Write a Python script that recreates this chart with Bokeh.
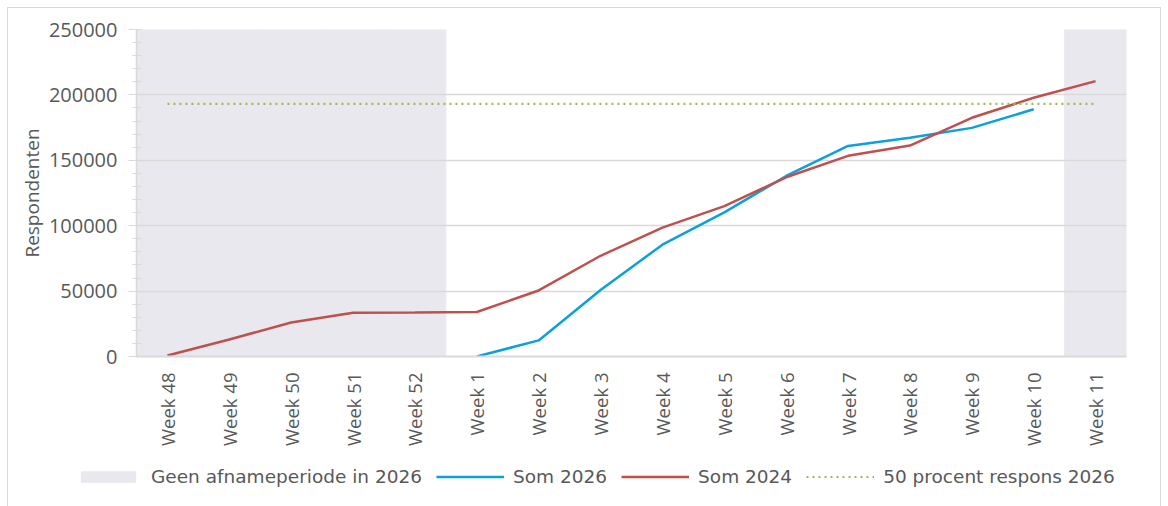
import math
from bokeh.plotting import figure
from bokeh.layouts import column
from bokeh.models import FactorRange, Range1d, FixedTicker, Legend, LegendItem
from bokeh.embed import file_html
from bokeh.resources import INLINE

# ---- data ----
weeks = ["Week 48", "Week 49", "Week 50", "Week 51", "Week 52",
         "Week 1", "Week 2", "Week 3", "Week 4", "Week 5", "Week 6",
         "Week 7", "Week 8", "Week 9", "Week 10", "Week 11"]
som_2024 = [800, 13000, 26000, 33500, 33600, 34000, 50500, 77000, 98500,
            115000, 137000, 153400, 161300, 182500, 197800, 210500]
weeks_2026 = ["Week 1", "Week 2", "Week 3", "Week 4", "Week 5", "Week 6",
              "Week 7", "Week 8", "Week 9", "Week 10"]
som_2026 = [0, 12300, 50800, 85500, 110200, 138000, 161000, 167200, 174800, 189000]
respons_50 = [193200] * len(weeks)
geen_afname_weeks = ["Week 48", "Week 49", "Week 50", "Week 51", "Week 52", "Week 11"]
y_ticks = [0, 50000, 100000, 150000, 200000, 250000]
legend_labels = ["Geen afnameperiode in 2026", "Som 2026", "Som 2024", "50 procent respons 2026"]

TEXT = "#595959"
GRID = "#D9D9D9"
SHADE = "#EAE8EF"
BLUE = "#0BA0DE"
RED = "#C0504D"
GREEN = "#9BBB59"
AXFONT = "Open Sans"

p = figure(width=1152, height=441, x_range=FactorRange(factors=weeks, range_padding=0),
           y_range=Range1d(0, 250000), output_backend="svg", toolbar_location=None,
           min_border_left=128, min_border_right=34, min_border_top=21, min_border_bottom=89)
p.frame_align = False
p.outline_line_color = None
p.background_fill_color = "white"
p.border_fill_color = "white"

p.vbar(x=geen_afname_weeks, top=[y_ticks[-1]] * len(geen_afname_weeks), bottom=0, width=1.0,
       fill_color=SHADE, line_color=SHADE, line_width=1, level="underlay")
p.line(weeks_2026, som_2026, line_color=BLUE, line_width=2.5)
p.line(weeks, som_2024, line_color=RED, line_width=2.5)
p.line(weeks, respons_50, line_color=GREEN, line_width=2.2, line_dash="2 4")

# axes
yax = p.yaxis[0]
yax.ticker = FixedTicker(ticks=y_ticks, minor_ticks=list(range(0, 250001, 10000)))
yax.axis_label = "Respondenten"
yax.axis_label_text_font = AXFONT
yax.axis_label_text_font_size = "19px"
yax.axis_label_text_font_style = "normal"
yax.axis_label_text_color = TEXT
yax.axis_label_standoff = 1
yax.major_label_text_font = AXFONT
yax.major_label_text_font_size = "20px"
yax.major_label_text_color = TEXT
yax.major_label_standoff = 11
yax.axis_line_color = GRID
yax.axis_line_width = 1.5
yax.major_tick_line_color = GRID
yax.major_tick_out = 8
yax.major_tick_in = 0
yax.minor_tick_line_color = GRID
yax.minor_tick_out = 4
yax.minor_tick_in = 5
yax.minor_tick_line_width = 1.2
yax.formatter.use_scientific = False

xax = p.xaxis[0]
xax.major_label_orientation = math.pi / 2
xax.major_label_text_font = AXFONT
xax.major_label_text_font_size = "18.5px"
xax.major_label_text_color = TEXT
xax.major_label_standoff = 10
xax.axis_line_color = GRID
xax.axis_line_width = 2
xax.major_tick_line_color = None
xax.minor_tick_line_color = None

p.xgrid.grid_line_color = None
p.ygrid.grid_line_color = GRID
p.ygrid.grid_line_width = 1.5
p.ygrid.ticker = FixedTicker(ticks=y_ticks)

# legend strip (separate figure so the legend can sit below the axis labels)
q = figure(width=1152, height=58, x_range=Range1d(0, 1), y_range=Range1d(0, 1),
           output_backend="svg", toolbar_location=None,
           x_axis_location=None, y_axis_location=None,
           min_border_left=0, min_border_right=0, min_border_top=0, min_border_bottom=0)
q.frame_align = False
q.outline_line_color = None
q.xgrid.grid_line_color = None
q.ygrid.grid_line_color = None
q.background_fill_color = "white"
q.border_fill_color = "white"
g_shade = q.vbar(x=[5], top=[6], bottom=[5], width=1, fill_color=SHADE, line_color=SHADE)
g_blue = q.line(x=[5, 6], y=[5, 5], line_color=BLUE, line_width=2.5)
g_red = q.line(x=[5, 6], y=[5, 5], line_color=RED, line_width=2.5)
g_green = q.line(x=[5, 6], y=[5, 5], line_color=GREEN, line_width=2.2, line_dash="2 4")

legend = Legend(items=[LegendItem(label=lab, renderers=[r]) for lab, r in
                       zip(legend_labels, [g_shade, g_blue, g_red, g_green])],
                orientation="horizontal", location=(66, 20))
legend.label_text_font = "DejaVu Sans"
legend.label_text_font_size = "18.5px"
legend.label_text_color = TEXT
legend.glyph_width = 68
legend.glyph_height = 13
legend.label_standoff = 9
legend.spacing = 14
legend.padding = 6
legend.margin = 0
legend.border_line_color = None
legend.background_fill_alpha = 0
q.add_layout(legend, "center")

layout = column(p, q, spacing=0,
                styles={"border": "1px solid #D9D9D9", "margin-left": "7px", "margin-top": "7px"})
open("out.html", "w").write(file_html(layout, INLINE))
